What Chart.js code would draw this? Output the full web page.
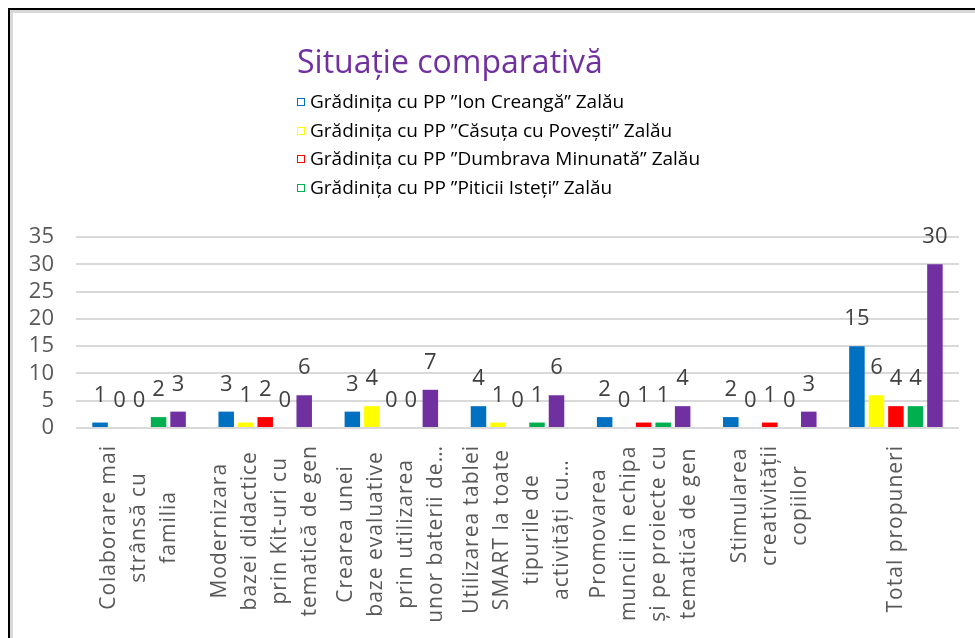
<!DOCTYPE html>
<html>
<head>
<meta charset="utf-8">
<script src="https://cdn.jsdelivr.net/npm/chart.js@4"></script>
<style>
  html, body { margin: 0; padding: 0; background: #fff; }
  #wrap { position: relative; width: 975px; height: 638px; overflow: hidden; }
  #chart { position: absolute; left: 0; top: 0; }
  #frame { position: absolute; left: 8px; top: 8px; width: 1000px; height: 700px;
           border-left: 2px solid #000; border-top: 2px solid #000; pointer-events: none; }
  #frame div { width: 100%; height: 100%; border-left: 3px solid #d9d9d9; border-top: 3px solid #d9d9d9; }
  .head { position: absolute; left: 297px; font-family: "Open Sans", sans-serif; line-height: 1; white-space: nowrap; }
  #title { top: 45px; font-size: 32px; color: #7030A0; }
  .leg { font-size: 19px; color: #000; padding-left: 13px; }
  .leg span { position: absolute; left: 0; top: 6px; width: 6px; height: 6px; border: 1.5px solid; }
</style>
</head>
<body>
<div id="wrap">
  <canvas id="chart" width="975" height="638"></canvas>
  <div id="title" class="head">Situație comparativă</div>
  <div id="legend"></div>
  <div id="frame"><div></div></div>
</div>
<script>
// categories (one array of lines per category, as shown on the axis)
const categories = [
  ["Colaborare mai", "strânsă cu", "familia"],
  ["Modernizara", "bazei didactice", "prin Kit-uri cu", "tematică de gen"],
  ["Crearea unei", "baze evaluative", "prin utilizarea", "unor baterii de…"],
  ["Utilizarea tablei", "SMART la toate", "tipurile de", "activități cu…"],
  ["Promovarea", "muncii in echipa", "și pe proiecte cu", "tematică de gen"],
  ["Stimularea", "creativității", "copiilor"],
  ["Total propuneri"]
];

const seriesNames = [
  "Grădinița cu PP ”Ion Creangă” Zalău",
  "Grădinița cu PP ”Căsuța cu Povești” Zalău",
  "Grădinița cu PP ”Dumbrava Minunată” Zalău",
  "Grădinița cu PP ”Piticii Isteți” Zalău",
  "Total"
];
const seriesColors = ["#0070C0", "#FFFF00", "#FF0000", "#00B050", "#7030A0"];

const ionCreanga = [1, 3, 3, 4, 2, 2, 15];
const casutaCuPovesti = [0, 1, 4, 1, 0, 0, 6];
const dumbravaMinunata = [0, 2, 0, 0, 1, 1, 4];
const piticiiIsteti = [2, 0, 0, 1, 1, 0, 4];
const total = [3, 6, 7, 6, 4, 3, 30];
const seriesValues = [ionCreanga, casutaCuPovesti, dumbravaMinunata, piticiiIsteti, total];

const yTicks = [0, 5, 10, 15, 20, 25, 30, 35];

// legend (only the four kindergartens are listed)
const legend = document.getElementById("legend");
const legendTops = [92, 120.5, 149, 177.5];
for (let i = 0; i < 4; i++) {
  const row = document.createElement("div");
  row.className = "head leg";
  row.style.top = legendTops[i] + "px";
  const box = document.createElement("span");
  box.style.borderColor = seriesColors[i];
  row.appendChild(box);
  row.appendChild(document.createTextNode(seriesNames[i]));
  legend.appendChild(row);
}

const FONT = '"Open Sans", sans-serif';

// value labels above each bar
const valueLabels = {
  id: "valueLabels",
  afterDatasetsDraw(chart) {
    const ctx = chart.ctx;
    ctx.save();
    ctx.font = "22px " + FONT;
    ctx.fillStyle = "#404040";
    ctx.textAlign = "center";
    ctx.textBaseline = "alphabetic";
    chart.data.datasets.forEach((ds, d) => {
      chart.getDatasetMeta(d).data.forEach((bar, i) => {
        ctx.fillText(String(ds.data[i]), bar.x, bar.y - 21);
      });
    });
    ctx.restore();
  }
};

// rotated, centred multi-line category labels
const categoryLabels = {
  id: "categoryLabels",
  afterDraw(chart) {
    const ctx = chart.ctx;
    const xs = chart.scales.x;
    const top = chart.chartArea.bottom + 17;
    ctx.save();
    ctx.font = "21px " + FONT;
    ctx.letterSpacing = "1px";
    ctx.fillStyle = "#595959";
    ctx.textAlign = "center";
    ctx.textBaseline = "middle";
    categories.forEach((lines, i) => {
      const cx = xs.getPixelForValue(i);
      const maxW = Math.max(...lines.map(l => ctx.measureText(l).width));
      lines.forEach((line, j) => {
        ctx.save();
        ctx.translate(cx + (j - (lines.length - 1) / 2) * 30, top + maxW / 2);
        ctx.rotate(-Math.PI / 2);
        ctx.fillText(line, 0, 0);
        ctx.restore();
      });
    });
    ctx.restore();
  }
};

new Chart(document.getElementById("chart"), {
  type: "bar",
  data: {
    labels: categories.map(c => c.join(" ")),
    datasets: seriesValues.map((vals, i) => ({
      label: seriesNames[i],
      data: vals,
      backgroundColor: seriesColors[i],
      categoryPercentage: 0.773,
      barPercentage: 0.795
    }))
  },
  options: {
    responsive: false,
    animation: false,
    layout: { padding: { top: 237, bottom: 210, left: 0, right: 16 } },
    plugins: {
      legend: { display: false },
      title: { display: false },
      tooltip: { enabled: false }
    },
    scales: {
      x: {
        grid: { display: false },
        border: { display: false },
        ticks: { display: false },
        afterFit(scale) { scale.height = 0; }
      },
      y: {
        min: 0,
        max: 35,
        afterBuildTicks(scale) { scale.ticks = yTicks.map(v => ({ value: v })); },
        afterFit(scale) { scale.width = 76; },
        grid: { color: "#d9d9d9", lineWidth: 2, drawTicks: false },
        border: { display: false },
        ticks: {
          autoSkip: false,
          padding: 22,
          color: "#595959",
          font: { family: "Open Sans", size: 22, lineHeight: 1 }
        }
      }
    }
  },
  plugins: [valueLabels, categoryLabels]
});
</script>
</body>
</html>
